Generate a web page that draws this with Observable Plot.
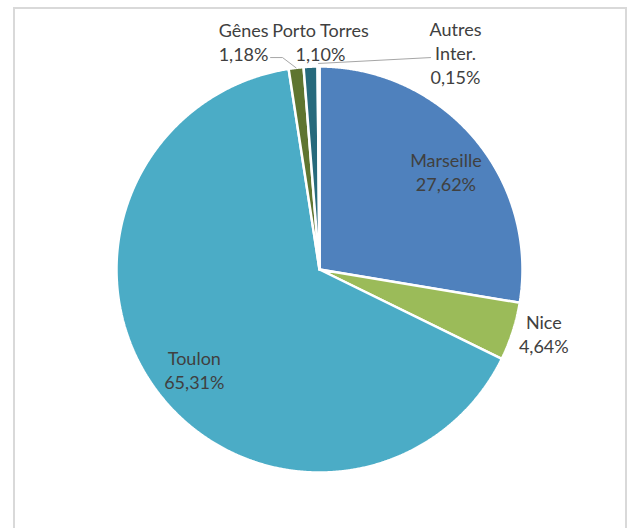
<!DOCTYPE html>
<html>
<head>
<meta charset="utf-8">
<script src="https://cdn.jsdelivr.net/npm/d3@7"></script>
<script src="https://cdn.jsdelivr.net/npm/@observablehq/plot@0.6"></script>
<style>
  html, body { margin: 0; padding: 0; background: #fff; overflow: hidden; width: 644px; height: 528px; }
  #frame { position: absolute; left: 13px; top: 7px; width: 614px; height: 600px; border: 2px solid #d9d9d9; box-sizing: border-box; }
  #chart { position: absolute; left: 0; top: 0; }
</style>
</head>
<body>
<div id="frame"></div>
<div id="chart"></div>
<script>
// ---- data ----
const categories = ["Marseille", "Nice", "Toulon", "Gênes", "Porto Torres", "Autres Inter."];
const shares = [27.62, 4.64, 65.31, 1.18, 1.10, 0.15];
const colors = ["#4F81BD", "#9BBB59", "#4BACC6", "#5F7530", "#276A7C", "#2C4D75"];

// ---- derived ----
const rows = categories.map((name, i) => ({name, share: shares[i]}));
const arcs = d3.pie().sort(null).value(d => d.share)(rows);
const fmt = v => v.toFixed(2).replace(".", ",") + "%";

// slice polygons (unit circle, angle clockwise from 12 o'clock)
const poly = [];
for (const a of arcs) {
  const n = Math.max(2, Math.ceil((a.endAngle - a.startAngle) / 0.005));
  poly.push({name: a.data.name, x: 0, y: 0});
  for (let k = 0; k <= n; k++) {
    const t = a.startAngle + (a.endAngle - a.startAngle) * k / n;
    poly.push({name: a.data.name, x: Math.sin(t), y: Math.cos(t)});
  }
  poly.push({name: a.data.name, x: 0, y: 0});
}

// label layout
const mid = a => (a.startAngle + a.endAngle) / 2;
const topLabels = {           // tiny slices: labels stacked above the pie
  "Gênes": {x: -0.374, y: 1.123, text: d => "Gênes\n" + d},
  "Porto Torres": {x: 0.005, y: 1.123, text: d => "Porto Torres\n" + d},
  "Autres Inter.": {x: 0.67, y: 1.069, text: d => "Autres\nInter.\n" + d}
};
const labels = arcs.map(a => {
  const name = a.data.name, pct = fmt(a.data.share), m = mid(a);
  if (topLabels[name]) {
    const t = topLabels[name];
    return {name, x: t.x, y: t.y, text: t.text(pct)};
  }
  const inside = a.data.share > 10;
  const r = inside ? 0.79 : 1.15;
  return {
    name,
    x: r * Math.sin(m) + (inside ? 0.02 : 0.01),
    y: r * Math.cos(m) + (inside ? -0.025 : 0.035),
    text: name + "\n" + pct
  };
});

// leader lines
const leaders = [];
{
  const g = arcs[3], o = arcs[5];
  const mg = mid(g), mo = mid(o);
  leaders.push({id: "g", x: Math.sin(mg), y: Math.cos(mg)});
  leaders.push({id: "g", x: -0.182, y: 1.044});
  leaders.push({id: "g", x: -0.241, y: 1.044});
  leaders.push({id: "o", x: Math.sin(mo), y: Math.cos(mo) + 0.015});
  leaders.push({id: "o", x: 0.547, y: 1.044});
}

const chart = Plot.plot({
  width: 644,
  height: 528,
  x: {domain: [-1, 1], range: [116, 522], axis: null},
  y: {domain: [-1, 1], range: [472, 66], axis: null},
  color: {domain: categories, range: colors},
  style: {fontFamily: "Lato, 'Open Sans', sans-serif", background: "transparent"},
  marks: [
    Plot.line(poly, {x: "x", y: "y", z: "name", fill: "name", stroke: "white", strokeWidth: 2.5, strokeLinejoin: "miter", curve: "linear"}),
    Plot.line(leaders, {x: "x", y: "y", z: "id", stroke: "#a6a6a6", strokeWidth: 1}),
    Plot.text(labels, {x: "x", y: "y", text: "text", fill: "#404040", fontSize: 18, lineHeight: 1.33, textAnchor: "middle", lineAnchor: "middle"})
  ]
});
document.getElementById("chart").appendChild(chart);
</script>
</body>
</html>
